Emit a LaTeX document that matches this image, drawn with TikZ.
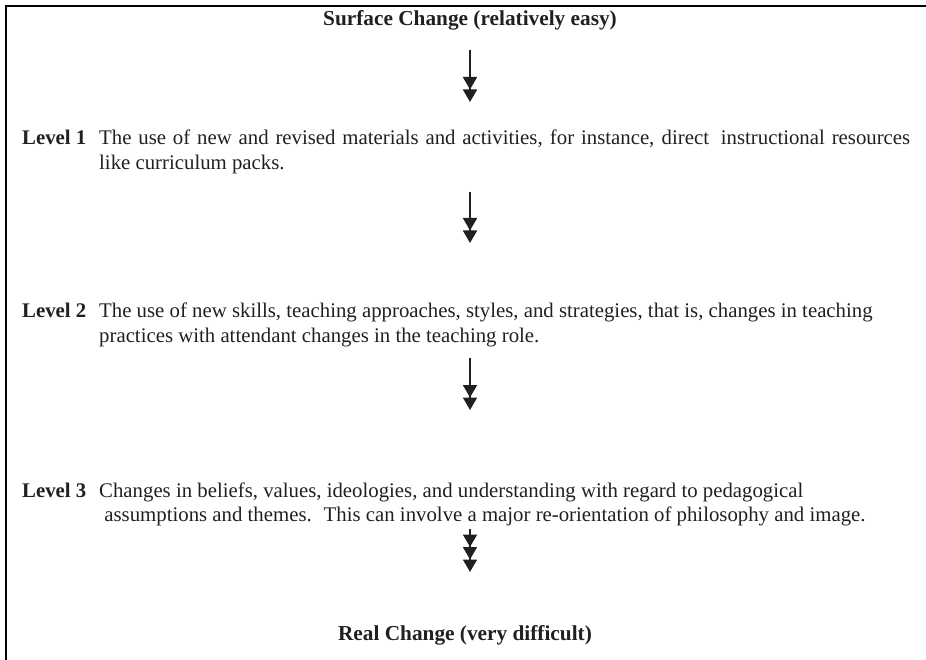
\documentclass[tikz,border=0pt]{standalone}
\usepackage{fontspec}
\setmainfont{Liberation Serif}
\usetikzlibrary{arrows.meta}
\definecolor{ink}{HTML}{231F20}
\begin{document}
\begin{tikzpicture}[x=1pt,y=-1pt,
  txt/.style={anchor=base west,inner sep=0pt,font=\fontsize{20.8}{25}\selectfont,text=ink},
  lbl/.style={anchor=base west,inner sep=0pt,font=\fontsize{20.8}{25}\selectfont\bfseries,text=ink},
  head/.style={anchor=base,inner sep=0pt,font=\fontsize{21.3}{25}\selectfont\bfseries,text=ink},
  arr2/.style={line width=1.8pt,draw=ink,-{Triangle[width=14pt,length=12.5pt] Triangle[width=14pt,length=12.5pt]}},
  arr3/.style={line width=1.8pt,draw=ink,-{Triangle[width=14pt,length=12.5pt] Triangle[width=14pt,length=12.5pt] Triangle[width=14pt,length=12.5pt]}}
]
\useasboundingbox (0,0) rectangle (926,660);
\draw[line width=2pt,black] (926,6) -- (6,6) -- (6,660);

\node[head] (top) at (470,26) {Surface Change (relatively easy)};

\node[lbl] (l1) at (22,145) {Level 1};
\node[txt] (l1a) at (99,145) {\makebox[811pt][s]{The use of new and revised materials and activities, for instance, direct\hspace{5pt} instructional resources}};
\node[txt] (l1b) at (99,170) {like curriculum packs.};

\node[lbl] (l2) at (22,317) {Level 2};
\node[txt] (l2a) at (99,317) {The use of new skills, teaching approaches, styles, and strategies, that is, changes in teaching};
\node[txt] (l2b) at (99,342) {practices with attendant changes in the teaching role.};

\node[lbl] (l3) at (22,497) {Level 3};
\node[txt] (l3a) at (99,497) {Changes in beliefs, values, ideologies, and understanding with regard to pedagogical};
\node[txt] (l3b) at (99,521) {\ assumptions and themes.\hspace{5pt} This can involve a major re-orientation of philosophy and image.};

\node[head] (bot) at (465,640) {Real Change (very difficult)};

\coordinate (a1s) at (470,50);  \coordinate (a1e) at (470,102);
\coordinate (a2s) at (470,192); \coordinate (a2e) at (470,243);
\coordinate (a3s) at (470,358); \coordinate (a3e) at (470,410);
\coordinate (a4s) at (470,529); \coordinate (a4e) at (470,572);

\draw[arr2] (a1s) -- (a1e);
\draw[arr2] (a2s) -- (a2e);
\draw[arr2] (a3s) -- (a3e);
\draw[arr3] (a4s) -- (a4e);
\end{tikzpicture}
\end{document}
